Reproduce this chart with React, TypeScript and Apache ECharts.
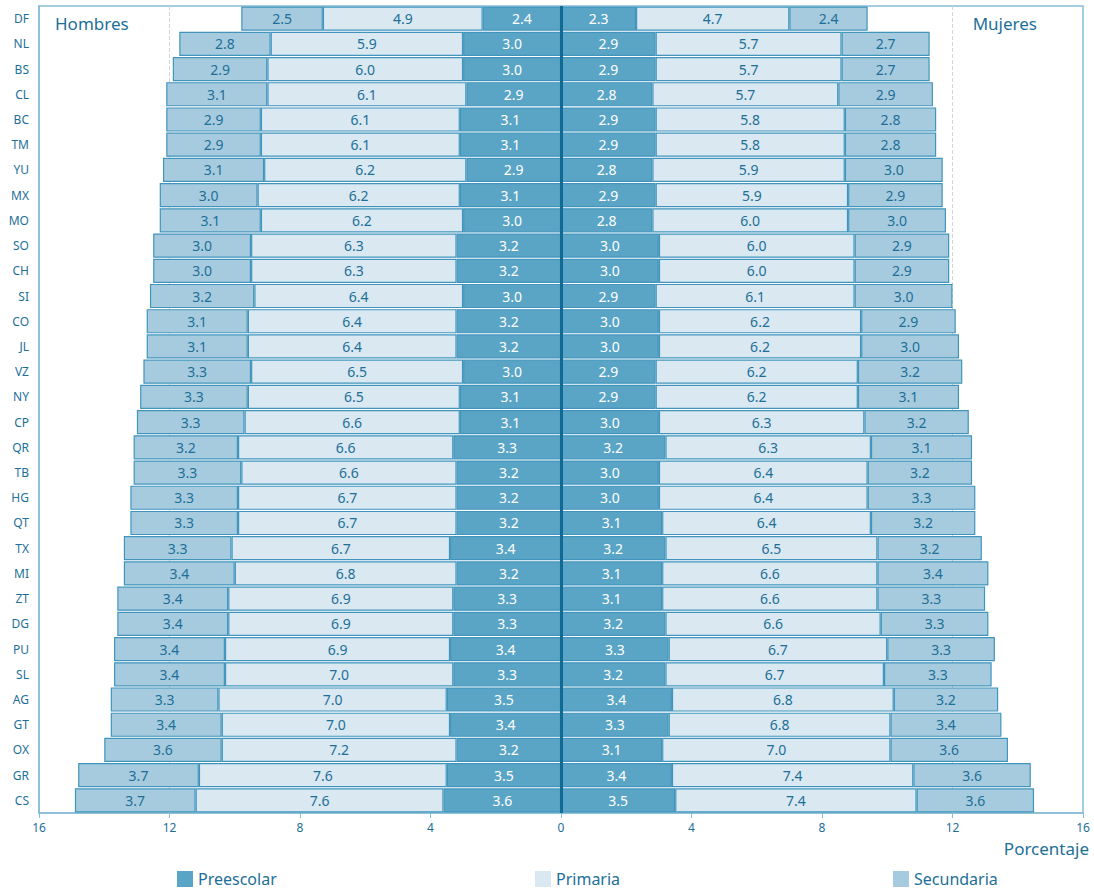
import React, { useEffect, useRef } from "react";
import * as echarts from "echarts";

const categories = ["DF","NL","BS","CL","BC","TM","YU","MX","MO","SO","CH","SI","CO","JL","VZ","NY","CP","QR","TB","HG","QT","TX","MI","ZT","DG","PU","SL","AG","GT","OX","GR","CS"];

const hombresPreescolar = [2.4,3.0,3.0,2.9,3.1,3.1,2.9,3.1,3.0,3.2,3.2,3.0,3.2,3.2,3.0,3.1,3.1,3.3,3.2,3.2,3.2,3.4,3.2,3.3,3.3,3.4,3.3,3.5,3.4,3.2,3.5,3.6];
const hombresPrimaria = [4.9,5.9,6.0,6.1,6.1,6.1,6.2,6.2,6.2,6.3,6.3,6.4,6.4,6.4,6.5,6.5,6.6,6.6,6.6,6.7,6.7,6.7,6.8,6.9,6.9,6.9,7.0,7.0,7.0,7.2,7.6,7.6];
const hombresSecundaria = [2.5,2.8,2.9,3.1,2.9,2.9,3.1,3.0,3.1,3.0,3.0,3.2,3.1,3.1,3.3,3.3,3.3,3.2,3.3,3.3,3.3,3.3,3.4,3.4,3.4,3.4,3.4,3.3,3.4,3.6,3.7,3.7];

const mujeresPreescolar = [2.3,2.9,2.9,2.8,2.9,2.9,2.8,2.9,2.8,3.0,3.0,2.9,3.0,3.0,2.9,2.9,3.0,3.2,3.0,3.0,3.1,3.2,3.1,3.1,3.2,3.3,3.2,3.4,3.3,3.1,3.4,3.5];
const mujeresPrimaria = [4.7,5.7,5.7,5.7,5.8,5.8,5.9,5.9,6.0,6.0,6.0,6.1,6.2,6.2,6.2,6.2,6.3,6.3,6.4,6.4,6.4,6.5,6.6,6.6,6.6,6.7,6.7,6.8,6.8,7.0,7.4,7.4];
const mujeresSecundaria = [2.4,2.7,2.7,2.9,2.8,2.8,3.0,2.9,3.0,2.9,2.9,3.0,2.9,3.0,3.2,3.1,3.2,3.1,3.2,3.3,3.2,3.2,3.4,3.3,3.3,3.3,3.3,3.2,3.4,3.6,3.6,3.6];

const gridMarks = [-12, 12];

const FONT = "Noto Sans";
const TEXT = "#1d6f98";
const C_PRE = "#5aa5c6";
const C_PRI = "#d9e8f1";
const C_SEC = "#a6cbde";
const BORDER = "#4195bd";

export default function App() {
  const ref = useRef<HTMLDivElement>(null);
  useEffect(() => {
    if (!ref.current) return;
    const chart = echarts.init(ref.current, undefined, { renderer: "svg" });

    const mk = (name: string, data: number[], color: string, neg: boolean, labelColor: string, extra: any = {}) => ({
      name,
      type: "bar",
      stack: "total",
      barCategoryGap: "4%",
      z: 2,
      data: data.map((v) => (neg ? -v : v)),
      itemStyle: { color, borderColor: BORDER, borderWidth: 1.2 },
      label: {
        show: true,
        position: "inside",
        color: labelColor,
        fontFamily: FONT,
        fontSize: 14,
        formatter: (p: any) => Math.abs(p.value).toFixed(1),
      },
      ...extra,
    });

    const legendBase = {
      top: 871,
      padding: 0,
      itemWidth: 16,
      itemHeight: 16,
      icon: "rect",
      itemGap: 6,
      itemStyle: { borderWidth: 0 },
      textStyle: { color: TEXT, fontSize: 16, fontFamily: FONT, lineHeight: 16 },
      selectedMode: false,
    };

    chart.setOption({
      animation: false,
      textStyle: { fontFamily: FONT },
      grid: {
        left: 39,
        right: 11,
        top: 6,
        bottom: 77,
        show: true,
        borderColor: "#86bdd6",
        borderWidth: 1.5,
        backgroundColor: "transparent",
      },
      legend: [
        { ...legendBase, data: ["Preescolar"], left: 177 },
        { ...legendBase, data: ["Primaria"], left: 535 },
        { ...legendBase, data: ["Secundaria"], left: 893 },
      ],
      xAxis: {
        type: "value",
        min: -16,
        max: 16,
        interval: 4,
        axisLine: { show: true, onZero: false, lineStyle: { color: "#86bdd6", width: 1.5 } },
        axisTick: { show: true, length: 5, lineStyle: { color: "#86bdd6" } },
        splitLine: { show: false },
        axisLabel: {
          color: TEXT,
          fontSize: 12,
          fontFamily: FONT,
          margin: 8,
          formatter: (v: number) => String(Math.abs(v)),
        },
      },
      yAxis: {
        type: "category",
        data: categories,
        inverse: true,
        axisLine: { show: true, onZero: false, lineStyle: { color: "#86bdd6", width: 1.5 } },
        axisTick: { show: false },
        axisLabel: { color: TEXT, fontSize: 12, fontFamily: FONT, margin: 10 },
      },
      series: [
        mk("Preescolar", hombresPreescolar, C_PRE, true, "#ffffff", {
          markLine: {
            silent: true,
            symbol: "none",
            z: 1,
            label: { show: false },
            data: gridMarks.map((x) => ({ xAxis: x, lineStyle: { color: "#d4d4d4", type: "dashed", width: 1 } })),
          },
        }),
        mk("Primaria", hombresPrimaria, C_PRI, true, TEXT),
        mk("Secundaria", hombresSecundaria, C_SEC, true, TEXT),
        mk("Preescolar", mujeresPreescolar, C_PRE, false, "#ffffff", {
          markLine: {
            silent: true,
            symbol: "none",
            label: { show: false },
            z: 10,
            data: [{ xAxis: 0, lineStyle: { color: "#0f6a94", type: "solid", width: 3 } }],
          },
        }),
        mk("Primaria", mujeresPrimaria, C_PRI, false, TEXT),
        mk("Secundaria", mujeresSecundaria, C_SEC, false, TEXT),
      ],
      graphic: [
        { type: "text", left: 55, top: 15, style: { text: "Hombres", fill: TEXT, font: `17px "${FONT}"` } },
        { type: "text", right: 57, top: 15, style: { text: "Mujeres", fill: TEXT, font: `17px "${FONT}"` } },
        { type: "text", right: 5, top: 840, style: { text: "Porcentaje", fill: TEXT, font: `17px "${FONT}"` } },
      ],
    });
    return () => chart.dispose();
  }, []);
  return <div ref={ref} style={{ width: 1094, height: 890, position: "absolute", left: 0, top: 0 }} />;
}
